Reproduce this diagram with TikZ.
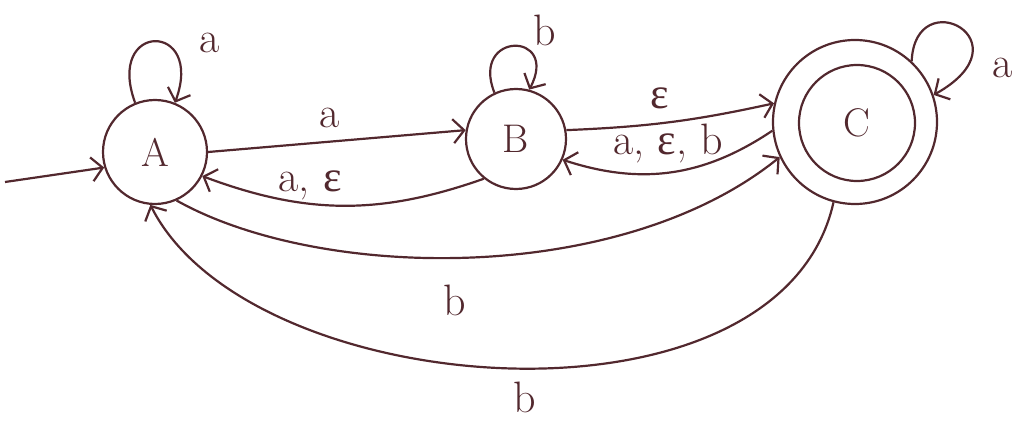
\documentclass[tikz,border=0pt]{standalone}
\usepackage{fontspec}
\newfontfamily\gk{Liberation Serif}
\usetikzlibrary{arrows.meta}
\definecolor{ink}{RGB}{82,40,46}
\tikzset{
  state/.style={circle, draw=ink, line width=2.2pt, inner sep=0pt, text=ink, font=\fontsize{40}{48}\selectfont},
  edge/.style={draw=ink, line width=2.2pt, -{Straight Barb[length=11pt,width=24pt,line width=2.2pt]}},
  lbl/.style={text=ink, font=\fontsize{44}{52}\selectfont, inner sep=0pt}
}
\newcommand{\eps}{{\gk\fontsize{44}{52}\selectfont ε}}
\begin{document}
\begin{tikzpicture}[x=1pt,y=1pt]
\useasboundingbox (0,0) rectangle (1022,421);
\node[state, minimum size=104pt] (A) at (155,269) {A};
\node[state, minimum size=100pt] (B) at (516,282) {B};
\node[state, minimum size=164pt] (C) at (855,299) {};
\node[state, minimum size=116pt] (Ci) at (857,298) {C};
\coordinate (s) at (5,239);

\draw[edge] (s) -- (A.197);
\draw[edge] (A.0) -- (B.170);
\draw[edge] (B.231) to[bend left=20] (A.-27);
\draw[edge] (B.10) to[bend right=5] (C.167);
\draw[edge] (C.186) to[bend left=26] (B.-24);
\draw[edge] (A.-66) .. controls (320,140) and (620,135) .. (C.205);
\draw[edge] (C.255) .. controls (780,-22) and (250,18) .. (A.265);

\draw[edge] (A.112) .. controls (105,400) and (205,400) .. (A.68);
\draw[edge] (B.115) .. controls (470,390) and (560,390) .. (B.75);
\draw[edge] (C.47) .. controls (915,440) and (1030,380) .. (C.19);

\node[lbl] (la) at (210,378) {a};
\node[lbl] (lb) at (545,391) {b};
\node[lbl] (lc) at (1003,353) {a};
\node[lbl] (lab) at (330,303) {a};
\node[lbl] (lba) at (310,236) {a, \eps};
\node[lbl] (lbc) at (660,323) {\eps};
\node[lbl] (lcb) at (668,277) {a, \eps, b};
\node[lbl] (lac) at (455,121) {b};
\node[lbl] (lca) at (525,24) {b};
\end{tikzpicture}
\end{document}
